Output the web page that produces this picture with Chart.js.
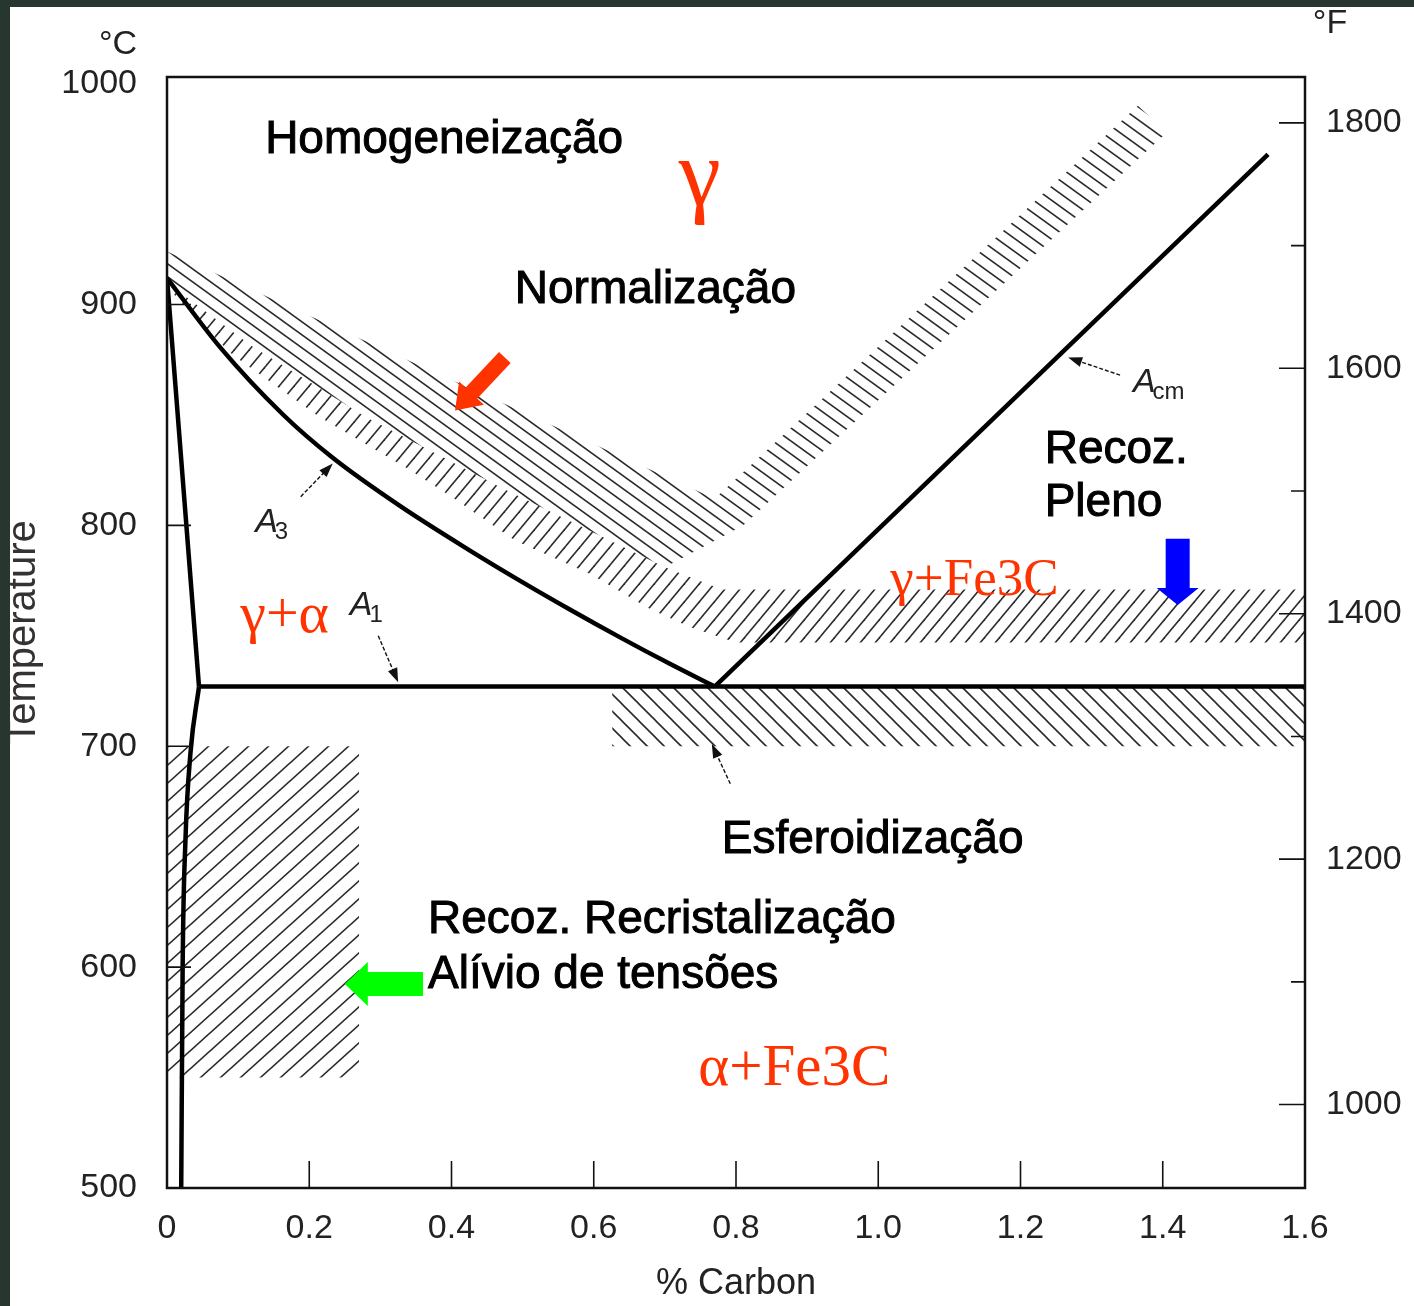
<!DOCTYPE html>
<html>
<head>
<meta charset="utf-8">
<script src="https://cdn.jsdelivr.net/npm/chart.js@4.4.1/dist/chart.umd.min.js"></script>
<style>
  html, body { margin: 0; padding: 0; background: #283630; }
  #wrap { position: absolute; left: 10px; top: 7px; width: 1404px; height: 1299px; background: #fff; }
</style>
</head>
<body>
<div id="wrap"><canvas id="c"></canvas></div>
<script>
/* ===== Fe-C diagram with heat treatment ranges ===== */

// axis ticks
const xTicks = [0, 0.2, 0.4, 0.6, 0.8, 1.0, 1.2, 1.4, 1.6];
const cTicks = [500, 600, 700, 800, 900, 1000];
const fTicks = [1000, 1100, 1200, 1300, 1400, 1500, 1600, 1700, 1800];

// phase boundaries (% C, °C)
const a3Carbon = [0, 0.0745, 0.163, 0.233, 0.328, 0.426, 0.496, 0.567, 0.637, 0.707, 0.77];
const a3Temp   = [912, 880.7, 850.2, 830.6, 808.7, 788.6, 775.0, 761.8, 749.3, 737.3, 727];
const ferriteCarbon = [0, 0.045];
const ferriteTemp   = [912, 727];
const solvusCarbon = [0.045, 0.033, 0.026, 0.022, 0.02];
const solvusTemp   = [727, 697, 658, 600, 500];
const acmCarbon = [0.77, 1.548];
const acmTemp   = [727, 968];
const a1Carbon = [0.045, 1.6];
const a1Temp   = [727, 727];

// heat treatment ranges (closed outlines)
const normCarbon = [0, 0.77, 1.365, 1.406, 0.81, 0.70, 0.47, 0.28, 0.12, 0, 0];
const normTemp   = [924, 812, 990, 978, 800, 781, 817, 849, 881, 912, 924];
const fullCarbon = [0, 0.12, 0.28, 0.47, 0.70, 0.78, 1.6, 1.6, 0.80, 0.735, 0.68, 0.595, 0.49, 0.40, 0.337, 0.215, 0.093, 0.037, 0, 0];
const fullTemp   = [910, 881, 849, 817, 781, 771, 771, 747, 747, 754, 762, 778, 793, 813, 826, 849, 877, 895, 908, 910];
const spherCarbon = [0.626, 1.6, 1.6, 0.626, 0.626];
const spherTemp   = [727, 727, 700, 700, 727];
const stressCarbon = [0, 0.27, 0.27, 0, 0];
const stressTemp   = [700, 700, 550, 550, 700];

// texts on the diagram
const textLabels = [
  { text: 'Homogeneização', x: 0.138, y: 974.5, kind: 'note' },
  { text: 'Normalização', x: 0.489, y: 906.6, kind: 'note' },
  { text: 'Recoz.', x: 1.234, y: 834, kind: 'note' },
  { text: 'Pleno', x: 1.234, y: 810, kind: 'note' },
  { text: 'Esferoidização', x: 0.78, y: 657.6, kind: 'note' },
  { text: 'Recoz. Recristalização', x: 0.367, y: 621.4, kind: 'note' },
  { text: 'Alívio de tensões', x: 0.367, y: 596.5, kind: 'note' },
  { text: 'γ', x: 0.749, y: 945, kind: 'phase', size: 95, align: 'center' },
  { text: 'γ+α', x: 0.103, y: 751.8, kind: 'phase', size: 58 },
  { text: 'γ+Fe3C', x: 1.017, y: 768.5, kind: 'phase', size: 53 },
  { text: 'α+Fe3C', x: 0.747, y: 546.7, kind: 'phase', size: 59 }
];
const lineNames = [
  { main: 'A', sub: '3', x: 0.124, y: 797 },
  { main: 'A', sub: '1', x: 0.257, y: 759.4 },
  { main: 'A', sub: 'cm', x: 1.358, y: 860.4 }
];
const pointers = [
  { from: [0.188, 813], to: [0.233, 828] },
  { from: [0.297, 750], to: [0.325, 729] },
  { from: [1.34, 868], to: [1.267, 876] },
  { from: [0.792, 683], to: [0.766, 701] }
];
const bigArrows = [
  { from: [0.475, 876], to: [0.405, 852], color: '#ff3300', shaft: 16, head: 34, len: 24 },
  { from: [1.421, 794], to: [1.421, 764], color: '#0000ff', shaft: 24, head: 42, len: 17 },
  { from: [0.36, 592.4], to: [0.25, 592.4], color: '#00ff00', shaft: 24, head: 44, len: 23 }
];

const SANS = '"Liberation Sans", Arial, sans-serif';
const SERIF = '"Liberation Serif", "Times New Roman", serif';
const toF = c => c * 9 / 5 + 32;
const pts = (xs, ys) => xs.map((x, i) => ({ x: x, y: ys[i] }));

function hatch(w, h, dir) {
  const c = document.createElement('canvas');
  c.width = w; c.height = h;
  const g = c.getContext('2d');
  g.strokeStyle = '#2a2a2a';
  g.lineWidth = 1.6;
  [-w, 0, w].forEach(o => {
    g.beginPath();
    if (dir === '\\') { g.moveTo(o - w, -h); g.lineTo(o + 2 * w, 2 * h); }
    else { g.moveTo(o - w, 2 * h); g.lineTo(o + 2 * w, -h); }
    g.stroke();
  });
  return g.createPattern(c, 'repeat');
}

function region(label, xs, ys, pattern) {
  return {
    label: label, data: pts(xs, ys), order: 2,
    fill: 'shape', backgroundColor: pattern,
    borderWidth: 0, pointRadius: 0, tension: 0
  };
}
function boundary(label, xs, ys, smooth) {
  return {
    label: label, data: pts(xs, ys), order: 0, fill: false,
    borderColor: '#000', borderWidth: 4.5, pointRadius: 0,
    cubicInterpolationMode: smooth ? 'monotone' : 'default', tension: smooth ? 0.4 : 0
  };
}

function blockArrow(ctx, x1, y1, x2, y2, shaft, head, len, color) {
  const a = Math.atan2(y2 - y1, x2 - x1);
  const L = Math.hypot(x2 - x1, y2 - y1);
  ctx.save();
  ctx.translate(x1, y1); ctx.rotate(a);
  ctx.fillStyle = color;
  ctx.beginPath();
  ctx.moveTo(0, -shaft / 2);
  ctx.lineTo(L - len, -shaft / 2);
  ctx.lineTo(L - len, -head / 2);
  ctx.lineTo(L, 0);
  ctx.lineTo(L - len, head / 2);
  ctx.lineTo(L - len, shaft / 2);
  ctx.lineTo(0, shaft / 2);
  ctx.closePath();
  ctx.fill();
  ctx.restore();
}

function thinArrow(ctx, x1, y1, x2, y2) {
  const a = Math.atan2(y2 - y1, x2 - x1);
  const L = Math.hypot(x2 - x1, y2 - y1);
  ctx.save();
  ctx.translate(x1, y1); ctx.rotate(a);
  ctx.strokeStyle = '#111'; ctx.fillStyle = '#111'; ctx.lineWidth = 1.4;
  ctx.setLineDash([4, 2]);
  ctx.beginPath(); ctx.moveTo(0, 0); ctx.lineTo(L - 10, 0); ctx.stroke();
  ctx.setLineDash([]);
  ctx.beginPath(); ctx.moveTo(L, 0); ctx.lineTo(L - 14, -5); ctx.lineTo(L - 14, 5); ctx.closePath(); ctx.fill();
  ctx.restore();
}

const decor = {
  id: 'decor',
  afterDatasetsDraw(chart) {
    const { ctx, chartArea: ca, scales } = chart;
    const sx = scales.x, sy = scales.y, sf = scales.yF;
    ctx.save();

    // frame
    ctx.strokeStyle = '#111'; ctx.lineWidth = 2.5;
    ctx.strokeRect(ca.left, ca.top, ca.right - ca.left, ca.bottom - ca.top);

    // inward tick marks
    ctx.lineWidth = 1.6;
    ctx.beginPath();
    xTicks.slice(1, -1).forEach(v => {
      const p = sx.getPixelForValue(v);
      ctx.moveTo(p, ca.bottom); ctx.lineTo(p, ca.bottom - 27);
    });
    cTicks.slice(1, -1).forEach(v => {
      const p = sy.getPixelForValue(v);
      ctx.moveTo(ca.left, p); ctx.lineTo(ca.left + 24, p);
    });
    fTicks.forEach(v => {
      const p = sf.getPixelForValue(v);
      ctx.moveTo(ca.right, p); ctx.lineTo(ca.right - (v % 200 === 0 ? 26 : 14), p);
    });
    ctx.stroke();

    // unit labels
    ctx.fillStyle = '#222';
    ctx.font = '34px ' + SANS;
    ctx.textAlign = 'center'; ctx.textBaseline = 'middle';
    ctx.fillText('°C', ca.left - 49, ca.top - 32);
    ctx.fillText('°F', ca.right + 25, ca.top - 53);

    // region / phase texts
    textLabels.forEach(l => {
      const px = sx.getPixelForValue(l.x), py = sy.getPixelForValue(l.y);
      ctx.textAlign = l.align || 'left';
      if (l.kind === 'note') {
        ctx.font = '46px ' + SANS;
        ctx.textBaseline = 'middle';
        ctx.fillStyle = '#000'; ctx.strokeStyle = '#000'; ctx.lineWidth = 1;
        ctx.fillText(l.text, px, py);
        ctx.strokeText(l.text, px, py);
      } else {
        ctx.font = l.size + 'px ' + SERIF;
        ctx.textBaseline = 'alphabetic';
        ctx.fillStyle = '#ff3300';
        ctx.fillText(l.text, px, py);
      }
    });

    // A3 / A1 / Acm names
    ctx.fillStyle = '#222'; ctx.textAlign = 'left'; ctx.textBaseline = 'alphabetic';
    lineNames.forEach(n => {
      const px = sx.getPixelForValue(n.x), py = sy.getPixelForValue(n.y);
      ctx.font = 'italic 34px ' + SANS;
      ctx.fillText(n.main, px, py);
      const w = ctx.measureText(n.main).width;
      ctx.font = '24px ' + SANS;
      ctx.fillText(n.sub, px + w - 3, py + 7);
    });
    pointers.forEach(p => thinArrow(ctx,
      sx.getPixelForValue(p.from[0]), sy.getPixelForValue(p.from[1]),
      sx.getPixelForValue(p.to[0]), sy.getPixelForValue(p.to[1])));

    bigArrows.forEach(a => blockArrow(ctx,
      sx.getPixelForValue(a.from[0]), sy.getPixelForValue(a.from[1]),
      sx.getPixelForValue(a.to[0]), sy.getPixelForValue(a.to[1]),
      a.shaft, a.head, a.len, a.color));

    ctx.restore();
  }
};

const tickFont = { family: SANS, size: 34 };

new Chart(document.getElementById('c'), {
  type: 'line',
  data: {
    datasets: [
      boundary('A3', a3Carbon, a3Temp, true),
      boundary('ferrite', ferriteCarbon, ferriteTemp, false),
      boundary('solvus', solvusCarbon, solvusTemp, true),
      boundary('Acm', acmCarbon, acmTemp, false),
      boundary('A1', a1Carbon, a1Temp, false),
      region('Normalização', normCarbon, normTemp, hatch(18, 13, '\\')),
      region('Recoz. Pleno', fullCarbon, fullTemp, hatch(15, 18, '/')),
      region('Esferoidização', spherCarbon, spherTemp, hatch(17, 17, '\\')),
      region('Recristalização', stressCarbon, stressTemp, hatch(20, 18, '/'))
    ]
  },
  options: {
    responsive: true,
    maintainAspectRatio: false,
    animation: false,
    devicePixelRatio: 1,
    layout: { padding: { top: 70, left: 0, right: 0, bottom: 0 } },
    plugins: { legend: { display: false }, tooltip: { enabled: false } },
    scales: {
      x: {
        type: 'linear', position: 'bottom', min: 0, max: 1.6,
        afterBuildTicks: s => { s.ticks = xTicks.map(v => ({ value: v })); },
        afterFit: s => { s.height = 118; },
        grid: { display: false }, border: { display: false },
        ticks: { font: tickFont, color: '#222', padding: 12, maxRotation: 0, autoSkip: false,
                 callback: v => v === 0 ? '0' : v.toFixed(1) },
        title: { display: true, text: '% Carbon', color: '#222', padding: 0,
                 font: { family: SANS, size: 36, lineHeight: 1.2 } }
      },
      y: {
        type: 'linear', position: 'left', min: 500, max: 1003,
        afterBuildTicks: s => { s.ticks = cTicks.map(v => ({ value: v })); },
        afterFit: s => { s.width = 157; },
        grid: { display: false }, border: { display: false },
        ticks: { font: tickFont, color: '#222', padding: 22, autoSkip: false, callback: v => String(v) },
        title: { display: true, text: 'Temperature', color: '#333', padding: 0,
                 font: { family: SANS, size: 40, lineHeight: 0.7 } }
      },
      yF: {
        type: 'linear', position: 'right', min: toF(500), max: toF(1003),
        afterBuildTicks: s => { s.ticks = fTicks.map(v => ({ value: v })); },
        afterFit: s => { s.width = 109; },
        grid: { display: false }, border: { display: false },
        ticks: { font: tickFont, color: '#222', padding: 13, autoSkip: false,
                 callback: v => v % 200 === 0 ? String(v) : '' }
      }
    }
  },
  plugins: [decor]
});
</script>
</body>
</html>
